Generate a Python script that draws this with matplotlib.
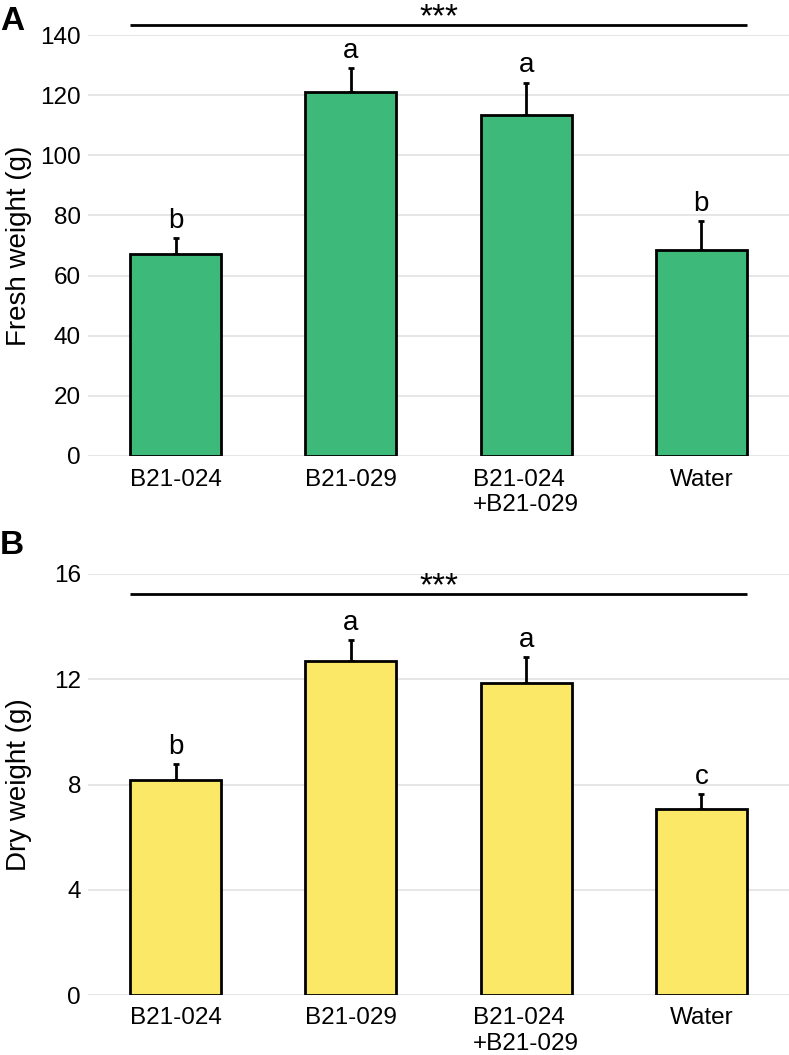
import matplotlib
matplotlib.use("Agg")
import matplotlib.pyplot as plt
import numpy as np

plt.rcParams['font.family'] = ['Liberation Sans', 'DejaVu Sans']

# dados
groups = ["B21-024", "B21-029", "B21-024\n+B21-029", "Water"]
fresh = [67.2, 121.2, 113.4, 68.5]
fresh_err = [5.3, 7.7, 10.8, 9.6]
fresh_letters = ["b", "a", "a", "b"]
dry = [8.17, 12.69, 11.86, 7.07]
dry_err = [0.61, 0.80, 0.99, 0.57]
dry_letters = ["b", "a", "a", "c"]

fig = plt.figure(figsize=(7.89, 10.55), dpi=100)
ax1 = fig.add_axes([88/789, 1-456/1055, 701/789, 421/1055])
ax2 = fig.add_axes([88/789, 60/1055, 701/789, 421/1055])

x = np.arange(1, len(groups) + 1)


def painel(ax, vals, errs, letters, color, ymax, yticks, ylabel, sig_y):
    ax.bar(x, vals, width=0.52, color=color, edgecolor='black', linewidth=2, zorder=3)
    ax.errorbar(x, vals, yerr=[np.zeros(len(vals)), errs], fmt='none', ecolor='black',
                elinewidth=2, capsize=2, capthick=2, zorder=2)
    for xi, v, e, l in zip(x, vals, errs, letters):
        ax.annotate(l, (xi, v + e), xytext=(0, 3), textcoords='offset points',
                    ha='center', va='bottom', fontsize=20)
    ax.set_xlim(0.5, 4.5)
    ax.set_ylim(0, ymax)
    ax.set_yticks(yticks)
    ax.set_xticks(x)
    ax.set_xticklabels(groups)
    for lab in ax.get_xticklabels():
        lab.set_multialignment('left')
    ax.tick_params(length=0, labelsize=17.5, colors='black')
    ax.tick_params(axis='x', pad=9)
    ax.tick_params(axis='y', pad=5)
    ax.yaxis.grid(True, color='#e2e2e2', linewidth=1.2)
    ax.set_axisbelow(True)
    for s in ax.spines.values():
        s.set_visible(False)
    ax.set_ylabel(ylabel, fontsize=20)
    ax.yaxis.set_label_coords(-0.08, 0.5)
    # linha de significância
    ax.plot([x[0] - 0.26, x[-1] + 0.26], [sig_y, sig_y], color='black', lw=2,
            clip_on=False, zorder=4, solid_capstyle='butt')
    ax.annotate("***", (2.5, sig_y), xytext=(0, -6), textcoords='offset points',
                ha='center', va='bottom', fontsize=24,
                annotation_clip=False)


painel(ax1, fresh, fresh_err, fresh_letters, '#3db97a', 140, [0, 20, 40, 60, 80, 100, 120, 140],
       "Fresh weight (g)", 143.3)
painel(ax2, dry, dry_err, dry_letters, '#fae866', 16, [0, 4, 8, 12, 16],
       "Dry weight (g)", 15.24)

fig.text(0.0, 1 - 6/1055, "A", fontsize=24, fontweight='bold', va='top', ha='left')
fig.text(0.0, 1 - 530/1055, "B", fontsize=24, fontweight='bold', va='top', ha='left')

fig.savefig("out.png", dpi=100)
